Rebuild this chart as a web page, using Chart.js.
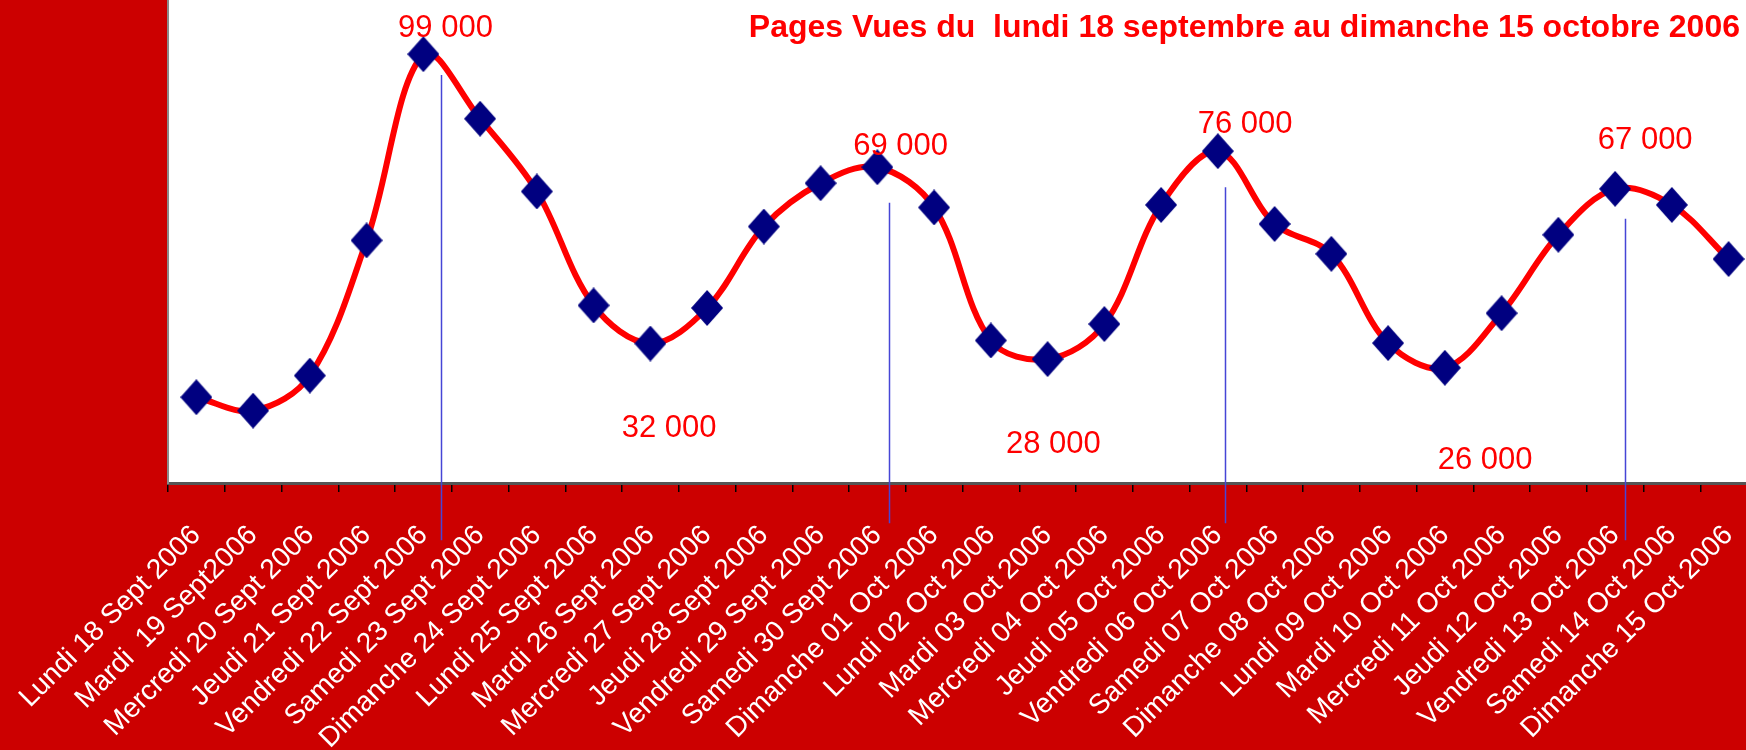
<!DOCTYPE html>
<html>
<head>
<meta charset="utf-8">
<script src="https://cdn.jsdelivr.net/npm/chart.js@4.4.1/dist/chart.umd.min.js"></script>
<style>
  html, body { margin: 0; padding: 0; background: #cc0000; overflow: hidden; }
  #wrap { width: 1760px; height: 750px; }
</style>
</head>
<body>
<div id="wrap"><canvas id="chart" width="1760" height="750"></canvas></div>
<script>
const FONT = "'Liberation Sans', Arial, sans-serif";
const TITLE = 'Pages Vues du  lundi 18 septembre au dimanche 15 octobre 2006';

const days = [
    'Lundi 18 Sept 2006', 'Mardi  19 Sept2006', 'Mercredi 20 Sept 2006', 'Jeudi 21 Sept 2006',
    'Vendredi 22 Sept 2006', 'Samedi 23 Sept 2006', 'Dimanche 24 Sept 2006', 'Lundi 25 Sept 2006',
    'Mardi 26 Sept 2006', 'Mercredi 27 Sept 2006', 'Jeudi 28 Sept 2006', 'Vendredi 29 Sept 2006',
    'Samedi 30 Sept 2006', 'Dimanche 01 Oct 2006', 'Lundi 02 Oct 2006', 'Mardi 03 Oct 2006',
    'Mercredi 04 Oct 2006', 'Jeudi 05 Oct 2006', 'Vendredi 06 Oct 2006', 'Samedi 07 Oct 2006',
    'Dimanche 08 Oct 2006', 'Lundi 09 Oct 2006', 'Mardi 10 Oct 2006', 'Mercredi 11 Oct 2006',
    'Jeudi 12 Oct 2006', 'Vendredi 13 Oct 2006', 'Samedi 14 Oct 2006', 'Dimanche 15 Oct 2006'
];

const pageViews = [
    19800, 16700, 24800, 56000, 99000, 84100, 67300, 41000,
    32200, 40400, 59200, 69200, 72900, 63600, 32900, 28600,
    36700, 64200, 76600, 59800, 52900, 32300, 26600, 39200,
    57300, 67900, 64200, 51700
];

const yMin = 0;
const yMax = 111500;

// text notes, anchored in data space (category index, value)
const noteTexts = ['99 000', '69 000', '32 000', '28 000', '76 000', '67 000', '26 000'];
const noteIndex = [4.39, 12.41, 8.33, 15.10, 18.48, 25.53, 22.71];
const noteValue = [103000, 75700, 10700, 7000, 80700, 77100, 3300];

// thin blue marker lines
const guideIndex = [4.31, 12.21, 18.13, 25.18];
const guideTop = [94200, 64700, 68300, 61000];
const guideBottom = [-13200, -9300, -9300, -13200];

function diamond(w, h, color) {
    const c = document.createElement('canvas');
    c.width = w; c.height = h;
    const g = c.getContext('2d');
    g.fillStyle = color;
    g.beginPath();
    g.moveTo(w / 2, 0);
    g.lineTo(w, h / 2);
    g.lineTo(w / 2, h);
    g.lineTo(0, h / 2);
    g.closePath();
    g.fill();
    return c;
}

const decor = {
    id: 'decor',
    beforeDraw(chart) {
        const { ctx, chartArea: a } = chart;
        ctx.save();
        ctx.fillStyle = '#ffffff';
        ctx.fillRect(a.left, a.top, a.right - a.left, a.bottom - a.top);
        ctx.restore();
    },
    afterDraw(chart) {
        const { ctx, chartArea: a } = chart;
        const x = chart.scales.x, y = chart.scales.y;
        ctx.save();
        ctx.strokeStyle = '#4646d6';
        ctx.lineWidth = 1.5;
        guideIndex.forEach((gi, i) => {
            const px = Math.round(x.getPixelForValue(gi)) + 0.5;
            ctx.beginPath();
            ctx.moveTo(px, y.getPixelForValue(guideTop[i]));
            ctx.lineTo(px, y.getPixelForValue(guideBottom[i]));
            ctx.stroke();
        });

        ctx.fillStyle = '#ff0000';
        ctx.textAlign = 'center';
        ctx.textBaseline = 'alphabetic';
        ctx.font = '31px ' + FONT;
        noteTexts.forEach((t, i) => {
            ctx.fillText(t, x.getPixelForValue(noteIndex[i]), y.getPixelForValue(noteValue[i]));
        });

        ctx.textAlign = 'right';
        ctx.font = 'bold 32px ' + FONT;
        ctx.fillText(TITLE, a.right - 17, a.top + 37);
        ctx.restore();
    }
};

new Chart(document.getElementById('chart'), {
    type: 'line',
    data: {
        labels: days,
        datasets: [{
            data: pageViews,
            borderColor: '#ff0000',
            borderWidth: 6,
            tension: 0.35,
            pointStyle: diamond(32, 36, '#000080'),
            pointRadius: 16,
            pointHoverRadius: 16
        }]
    },
    options: {
        responsive: false,
        animation: false,
        devicePixelRatio: 1,
        layout: { autoPadding: false, padding: { top: 0, left: 0, right: 3, bottom: 0 } },
        plugins: {
            legend: { display: false },
            tooltip: { enabled: false }
        },
        scales: {
            x: {
                type: 'category',
                offset: true,
                grid: {
                    offset: true,
                    drawOnChartArea: false,
                    drawTicks: true,
                    tickLength: 9,
                    color: '#000000',
                    lineWidth: 1.5
                },
                border: { color: '#555555', width: 3 },
                ticks: {
                    color: '#ffffff',
                    font: { size: 28, family: FONT },
                    minRotation: 45,
                    maxRotation: 45,
                    autoSkip: false,
                    padding: 27
                },
                afterFit(s) {
                    s.height = 267;
                    s.paddingLeft = 0;
                    s.paddingRight = 0;
                }
            },
            y: {
                min: yMin,
                max: yMax,
                grid: { display: false },
                ticks: { display: false },
                border: { color: '#8a8a8a', width: 2 },
                afterFit(s) {
                    s.width = 168;
                }
            }
        }
    },
    plugins: [decor]
});
</script>
</body>
</html>
